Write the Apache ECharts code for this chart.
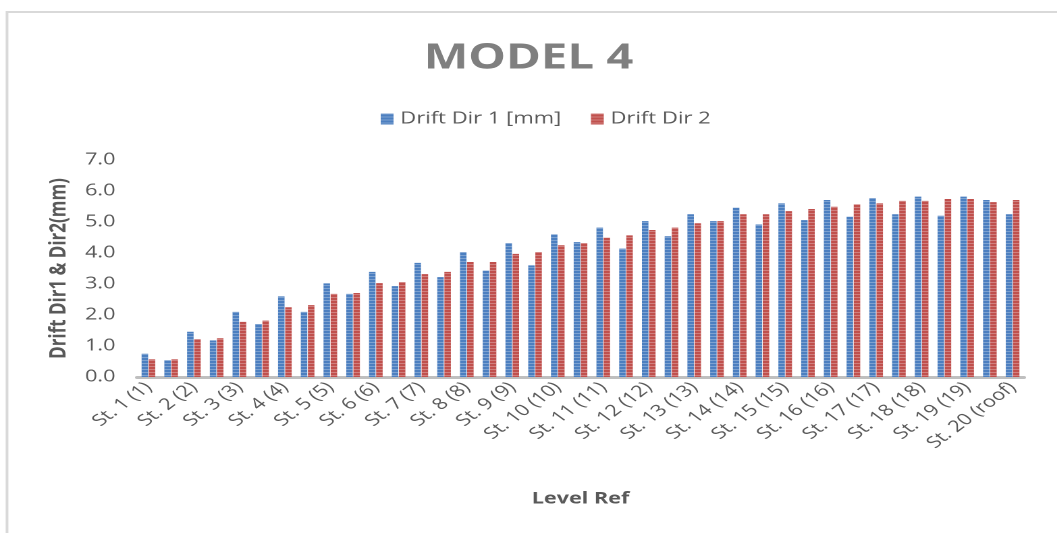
<!DOCTYPE html>
<html>
<head>
<meta charset="utf-8">
<script src="https://cdn.jsdelivr.net/npm/echarts@6/dist/echarts.min.js"></script>
<style>
html,body{margin:0;padding:0;background:#fff;overflow:hidden;width:1057px;height:533px;}
#chart{width:783px;height:533px;transform:scaleX(1.35);transform-origin:0 0;}
</style>
</head>
<body>
<div id="chart"></div>
<script>
// 39 levels: storey labels at even positions, intermediate points between them
const storeyLabels = ["St. 1 (1)","St. 2 (2)","St. 3 (3)","St. 4 (4)","St. 5 (5)","St. 6 (6)","St. 7 (7)","St. 8 (8)","St. 9 (9)","St. 10 (10)","St. 11 (11)","St. 12 (12)","St. 13 (13)","St. 14 (14)","St. 15 (15)","St. 16 (16)","St. 17 (17)","St. 18 (18)","St. 19 (19)","St. 20 (roof)"];
const midLabels = ["St. 1-2","St. 2-3","St. 3-4","St. 4-5","St. 5-6","St. 6-7","St. 7-8","St. 8-9","St. 9-10","St. 10-11","St. 11-12","St. 12-13","St. 13-14","St. 14-15","St. 15-16","St. 16-17","St. 17-18","St. 18-19","St. 19-20"];
const categories = [];
for (let i = 0; i < storeyLabels.length; i++) {
  categories.push(storeyLabels[i]);
  if (i < midLabels.length) categories.push(midLabels[i]);
}
const driftDir1 = [0.75,0.54,1.46,1.18,2.10,1.71,2.60,2.10,3.02,2.68,3.39,2.93,3.68,3.22,4.03,3.43,4.32,3.60,4.60,4.35,4.82,4.14,5.03,4.54,5.25,5.03,5.46,4.92,5.60,5.06,5.71,5.17,5.77,5.25,5.82,5.20,5.82,5.71,5.25];
const driftDir2 = [0.57,0.57,1.22,1.25,1.78,1.82,2.25,2.32,2.68,2.71,3.03,3.06,3.32,3.39,3.71,3.71,3.97,4.03,4.25,4.32,4.49,4.57,4.74,4.82,4.96,5.03,5.25,5.25,5.35,5.42,5.49,5.57,5.60,5.68,5.68,5.74,5.74,5.64,5.71];
const yTicks = [0, 1, 2, 3, 4, 5, 6, 7];

const font = "'Open Sans', 'Noto Sans', sans-serif";
const stripe = {
  symbol: 'rect',
  symbolSize: 1,
  dashArrayX: [1, 0],
  dashArrayY: [1, 2],
  rotation: 0,
  color: 'rgba(255,255,255,0.28)'
};

const chart = echarts.init(document.getElementById('chart'), null, {renderer: 'canvas', devicePixelRatio: 2});

chart.setOption({
  animation: false,
  backgroundColor: '#ffffff',
  title: {
    text: 'MODEL 4',
    left: 'center',
    top: 36,
    textStyle: {fontFamily: font, fontWeight: 'bold', fontSize: 35, color: '#7f7f7f'}
  },
  legend: {
    top: 106,
    left: 277,
    itemWidth: 9.5,
    itemHeight: 11,
    itemGap: 22,
    icon: 'rect',
    textStyle: {fontFamily: font, fontSize: 16.3, color: '#595959'},
    data: ['Drift Dir 1 [mm]', 'Drift Dir 2']
  },
  grid: {left: 101.5, right: 24.5, top: 160, bottom: 156, containLabel: false},
  xAxis: {
    type: 'category',
    data: categories,
    name: 'Level Ref',
    nameLocation: 'middle',
    nameGap: 114,
    nameTextStyle: {fontFamily: font, fontWeight: 'bold', fontSize: 16, color: '#595959'},
    axisLine: {lineStyle: {color: '#bfbfbf', width: 3}},
    axisTick: {show: false},
    axisLabel: {
      interval: 1,
      rotate: 45,
      margin: 8,
      fontFamily: font,
      fontSize: 16,
      color: '#595959'
    },
    splitLine: {show: false}
  },
  yAxis: {
    type: 'value',
    min: yTicks[0],
    max: yTicks[yTicks.length - 1],
    interval: 1,
    name: 'Drift Dir1 & Dir2(mm)',
    nameLocation: 'middle',
    nameGap: 45,
    nameTextStyle: {fontFamily: font, fontWeight: 'bold', fontSize: 17, color: '#595959'},
    axisLine: {show: false},
    axisTick: {show: false},
    splitLine: {show: false},
    axisLabel: {
      margin: 16,
      fontFamily: font,
      fontSize: 16,
      color: '#595959',
      formatter: v => v.toFixed(1)
    }
  },
  series: [
    {
      name: 'Drift Dir 1 [mm]',
      type: 'bar',
      data: driftDir1,
      barWidth: 4.8,
      barGap: '10%',
      itemStyle: {color: '#4c7fc0', decal: stripe}
    },
    {
      name: 'Drift Dir 2',
      type: 'bar',
      data: driftDir2,
      barWidth: 4.8,
      barGap: '10%',
      itemStyle: {color: '#c0504d', decal: stripe}
    }
  ],
  graphic: [
    {
      type: 'polyline',
      shape: {points: [[5.2, 540], [5.2, 12], [800, 12]]},
      style: {stroke: '#d9d9d9', lineWidth: 2, fill: null},
      silent: true
    }
  ]
});
</script>
</body>
</html>
